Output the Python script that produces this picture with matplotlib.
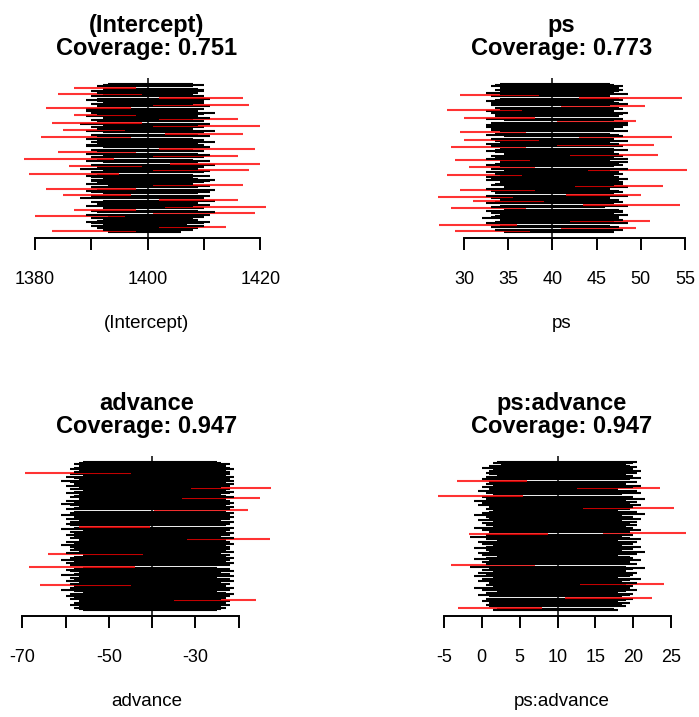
import numpy as np
import matplotlib.pyplot as plt

plt.rcParams['font.family'] = ['Liberation Sans', 'DejaVu Sans']

# confidence interval ends, bottom row first
lo_intercept = [
    1393, 1383, 1392, 1391, 1402, 1390, 1392, 1390, 1389, 1391,
    1392, 1390, 1393, 1380, 1389, 1401, 1391, 1390, 1387, 1392,
    1403, 1389, 1391, 1391, 1390, 1392, 1402, 1388, 1391, 1390,
    1385, 1392, 1390, 1389, 1391, 1382, 1390, 1393, 1401, 1389,
    1391, 1390, 1390, 1392, 1390, 1389, 1391, 1379, 1390, 1392,
    1401, 1388, 1391, 1386, 1390, 1404, 1392, 1389, 1391, 1378,
    1390, 1401, 1392, 1389, 1384, 1391, 1390, 1402, 1392, 1389,
    1389, 1391, 1390, 1391, 1393, 1389, 1381, 1391, 1390, 1403,
    1392, 1389, 1385, 1391, 1390, 1401, 1392, 1388, 1383, 1391,
    1390, 1402, 1392, 1389, 1387, 1391, 1390, 1389, 1392, 1389,
    1382, 1391, 1401, 1390, 1392, 1391, 1389, 1391, 1402, 1390,
    1392, 1384, 1391, 1390, 1392, 1392, 1387, 1391, 1392, 1393,
]
hi_intercept = [
    1406, 1398, 1408, 1409, 1414, 1410, 1407, 1410, 1411, 1409,
    1409, 1408, 1410, 1396, 1411, 1419, 1412, 1409, 1398, 1410,
    1421, 1408, 1411, 1409, 1409, 1412, 1416, 1410, 1408, 1411,
    1397, 1409, 1411, 1410, 1412, 1398, 1409, 1411, 1417, 1408,
    1410, 1411, 1412, 1409, 1408, 1411, 1408, 1395, 1410, 1411,
    1418, 1409, 1410, 1399, 1412, 1420, 1409, 1411, 1408, 1394,
    1410, 1416, 1411, 1409, 1398, 1410, 1408, 1419, 1411, 1410,
    1410, 1409, 1412, 1410, 1410, 1408, 1397, 1411, 1409, 1417,
    1410, 1412, 1396, 1408, 1410, 1420, 1409, 1411, 1399, 1410,
    1408, 1416, 1411, 1409, 1398, 1410, 1412, 1409, 1409, 1410,
    1397, 1411, 1418, 1408, 1410, 1410, 1409, 1411, 1417, 1410,
    1408, 1399, 1409, 1410, 1410, 1409, 1398, 1408, 1410, 1408,
]

lo_ps = [
    34.5, 29.0, 33.5, 41.0, 33.0, 34.0, 27.2, 32.5, 33.5, 42.0,
    34.0, 32.0, 33.0, 33.5, 34.0, 33.0, 33.5, 32.5, 34.5, 28.5,
    33.0, 34.0, 43.5, 32.5, 33.5, 31.0, 34.0, 33.0, 27.0, 32.5,
    41.5, 33.5, 34.0, 33.0, 29.5, 32.5, 34.5, 42.5, 33.0, 33.5,
    34.0, 34.0, 32.5, 33.0, 32.5, 34.0, 28.0, 33.5, 32.5, 34.5,
    44.0, 33.0, 30.5, 34.0, 32.5, 33.5, 34.0, 34.0, 29.0, 32.5,
    33.5, 33.0, 42.0, 34.5, 33.5, 32.5, 33.5, 34.0, 28.5, 33.0,
    40.5, 32.5, 34.0, 33.5, 30.0, 33.0, 43.0, 34.5, 32.5, 33.5,
    29.5, 34.0, 33.0, 33.0, 32.5, 34.0, 32.5, 33.5, 33.0, 40.5,
    34.5, 32.5, 30.0, 33.5, 34.0, 33.5, 33.0, 32.5, 28.0, 34.0,
    33.5, 41.0, 33.0, 34.5, 33.0, 32.5, 33.5, 34.0, 43.0, 33.0,
    29.5, 34.0, 32.5, 34.0, 33.5, 34.5, 34.0, 33.0, 33.5, 34.0,
]
hi_ps = [
    47.0, 37.5, 48.0, 49.5, 47.5, 46.5, 36.0, 48.5, 47.0, 51.0,
    48.0, 47.5, 47.5, 46.5, 48.5, 47.0, 48.0, 48.0, 47.5, 37.0,
    46.0, 48.5, 54.5, 47.0, 48.0, 39.0, 47.5, 46.5, 35.5, 48.5,
    50.0, 47.0, 48.0, 47.5, 38.0, 46.5, 48.5, 52.5, 47.0, 48.0,
    48.0, 47.5, 46.0, 48.5, 47.5, 47.0, 36.5, 48.0, 47.5, 46.5,
    55.2, 48.5, 38.0, 47.0, 48.0, 47.5, 48.5, 46.5, 37.5, 48.5,
    47.0, 48.0, 52.0, 47.5, 47.0, 46.5, 48.5, 47.0, 37.0, 48.0,
    51.5, 47.5, 46.5, 48.5, 38.5, 47.0, 53.5, 48.0, 47.5, 46.5,
    37.0, 48.5, 47.0, 47.0, 48.0, 47.5, 48.5, 46.5, 48.5, 49.5,
    47.0, 48.0, 38.0, 47.5, 46.5, 48.0, 48.5, 47.0, 36.5, 48.0,
    47.5, 50.5, 46.5, 48.5, 47.5, 47.0, 48.0, 47.5, 54.7, 46.5,
    38.5, 48.5, 47.0, 47.5, 48.0, 47.0, 47.5, 48.0, 47.0, 46.5,
]

lo_advance = [
    -56, -57, -58, -57, -59, -56, -58, -57, -35, -59,
    -58, -60, -57, -59, -56, -58, -61, -57, -59, -58,
    -66, -59, -57, -60, -58, -56, -59, -57, -61, -58,
    -57, -59, -60, -58, -56, -68.5, -59, -57, -60, -58,
    -61, -57, -59, -58, -56, -64, -60, -57, -59, -58,
    -57, -59, -61, -58, -56, -60, -57, -32, -59, -58,
    -60, -57, -58, -59, -56, -61, -58, -57, -59, -60,
    -58, -59, -57, -60, -56, -58, -61, -57, -59, -58,
    -39.6, -60, -58, -57, -59, -61, -58, -56, -60, -57,
    -33, -59, -58, -57, -60, -58, -56, -59, -31, -57,
    -60, -58, -57, -59, -61, -57, -58, -60, -56, -59,
    -69.5, -58, -57, -59, -58, -56, -57, -58, -57, -56,
]
hi_advance = [
    -25, -24, -23, -24, -22, -25, -23, -22, -16, -24,
    -23, -22, -24, -21, -23, -25, -22, -24, -21, -23,
    -45, -22, -24, -21, -23, -22, -25, -21, -23, -22,
    -24, -21, -23, -22, -25, -44, -22, -24, -21, -23,
    -22, -24, -21, -23, -22, -42, -24, -21, -23, -22,
    -25, -22, -23, -21, -24, -22, -23, -12.8, -21, -24,
    -22, -24, -21, -23, -22, -24, -21, -40.4, -23, -22,
    -23, -21, -24, -22, -23, -21, -22, -25, -21, -23,
    -17.9, -22, -24, -21, -23, -22, -21, -24, -22, -23,
    -15, -21, -23, -24, -22, -21, -23, -22, -12.6, -24,
    -22, -21, -24, -23, -21, -22, -24, -21, -23, -22,
    -45, -22, -23, -21, -22, -24, -23, -22, -24, -25,
]

lo_ps_advance = [
    1.5, 2.0, -3.1, 1.0, 0.5, 2.0, 1.0, 0.0, 1.5, 0.5,
    11.0, 1.0, -0.5, 1.5, 0.5, 2.0, 0.0, 1.0, -1.0, 1.5,
    0.5, 13.0, 1.0, -0.5, 2.0, 0.0, 1.5, -1.0, 0.5, 1.0,
    -0.5, 1.5, 0.0, 2.0, 1.0, -1.5, -4.0, 0.5, 1.5, 0.0,
    1.0, -1.0, 0.5, 2.0, 0.0, 1.5, -0.5, 1.0, 0.5, 2.0,
    -1.0, 0.5, 1.5, 0.0, 1.0, -0.5, 2.0, 0.5, 1.0, -1.5,
    0.5, -1.7, 16.0, 1.0, 0.0, 2.0, -1.0, 1.5, 0.5, 1.0,
    0.0, 1.5, -0.5, 1.0, 2.0, 0.5, -1.0, 1.5, 0.0, 1.0,
    1.5, 0.5, 13.3, 1.0, -0.5, 2.0, 0.0, 1.5, -1.0, 0.5,
    1.0, 0.0, -5.8, 1.5, 0.5, 2.0, -0.5, 1.0, 12.5, 0.0,
    1.5, 0.5, 2.0, 1.0, -3.3, 0.0, 1.5, 0.5, 2.0, 1.0,
    0.5, 2.0, 1.0, 1.5, 0.0, 2.0, 1.0, 2.5, 1.5, 2.0,
]
hi_ps_advance = [
    18.0, 17.5, 7.9, 19.0, 18.5, 17.5, 19.5, 18.0, 19.0, 20.0,
    22.5, 18.5, 19.5, 20.0, 18.0, 19.0, 20.5, 18.5, 19.5, 20.0,
    19.0, 24.0, 20.5, 18.5, 19.5, 21.0, 18.0, 19.5, 20.0, 18.5,
    20.5, 19.0, 18.5, 20.0, 21.5, 19.0, 7.0, 20.5, 18.0, 19.5,
    21.0, 18.5, 20.0, 19.5, 18.0, 20.5, 19.0, 21.5, 18.5, 20.0,
    19.5, 21.0, 18.5, 20.0, 19.0, 20.5, 18.0, 21.0, 19.5, 18.5,
    20.0, 8.7, 26.9, 19.5, 21.0, 18.5, 20.0, 19.0, 20.5, 18.0,
    19.5, 20.5, 18.5, 21.0, 19.0, 20.0, 18.5, 21.5, 19.0, 20.5,
    18.0, 19.5, 25.3, 20.0, 21.0, 18.5, 19.5, 20.5, 19.0, 21.5,
    19.0, 20.0, 5.5, 18.5, 21.0, 19.5, 20.5, 18.0, 23.5, 20.0,
    21.0, 19.0, 18.5, 20.5, 6.0, 19.5, 21.0, 18.5, 20.0, 19.0,
    20.5, 19.5, 21.0, 20.0, 19.0, 20.5, 19.5, 19.0, 20.0, 20.5,
]

names = ['(Intercept)', 'ps', 'advance', 'ps:advance']
lowers = [lo_intercept, lo_ps, lo_advance, lo_ps_advance]
uppers = [hi_intercept, hi_ps, hi_advance, hi_ps_advance]
true_values = [1400, 40, -40, 10]
coverage = [0.751, 0.773, 0.947, 0.947]
ticks = [
    [1380, 1390, 1400, 1410, 1420],
    [30, 35, 40, 45, 50, 55],
    [-70, -60, -50, -40, -30, -20],
    [-5, 0, 5, 10, 15, 20, 25],
]
tick_labels = [
    ['1380', '', '1400', '', '1420'],
    ['30', '35', '40', '45', '50', '55'],
    ['-70', '', '-50', '', '-30', ''],
    ['-5', '0', '5', '10', '15', '20', '25'],
]

W, H = 699, 717
# plot regions in pixels: left, top, right, bottom
boxes = [(12.5, 78, 280.5, 238), (428, 78, 695.5, 238),
         (12.5, 456, 280.5, 616), (428, 456, 695.5, 616)]
xlims = [(1376.0, 1423.6), (25.9, 56.2), (-72.3, -10.3), (-7.1, 28.2)]

fig = plt.figure(figsize=(W / 100, H / 100), dpi=100)

for i in range(4):
    l, t, r, b = boxes[i]
    ax = fig.add_axes([l / W, 1 - b / H, (r - l) / W, (b - t) / H])

    lo = np.array(lowers[i])
    hi = np.array(uppers[i])
    y = np.arange(len(lo))
    covered = (lo <= true_values[i]) & (hi >= true_values[i])
    cols = [(0, 0, 0, 1) if c else (1, 0, 0, 0.8) for c in covered]

    ax.hlines(y, lo, hi, colors=cols, linewidth=1.5)
    ax.axvline(true_values[i], color='black', linewidth=1.1)

    n = len(lo) - 1
    ax.set_xlim(xlims[i])
    ax.set_ylim(-0.04 * n, n * 1.04)
    for s in ['left', 'top', 'right']:
        ax.spines[s].set_visible(False)
    ax.spines['bottom'].set_bounds(ticks[i][0], ticks[i][-1])
    ax.spines['bottom'].set_linewidth(1.4)
    ax.set_yticks([])
    ax.set_xticks(ticks[i])
    ax.set_xticklabels(tick_labels[i], fontsize=13)
    ax.tick_params(axis='x', length=8.6, width=1.4, pad=15)

    cx = (l + r) / 2 / W
    fig.text(cx, 1 - (t - 46) / H, names[i], ha='center', va='baseline',
             fontsize=17, fontweight='bold')
    fig.text(cx, 1 - (t - 23) / H, 'Coverage: %.3f' % coverage[i], ha='center',
             va='baseline', fontsize=17, fontweight='bold')
    fig.text(cx, 1 - (b + 85) / H, names[i], ha='center', va='center', fontsize=13.5)

fig.savefig('out.png', dpi=100)
